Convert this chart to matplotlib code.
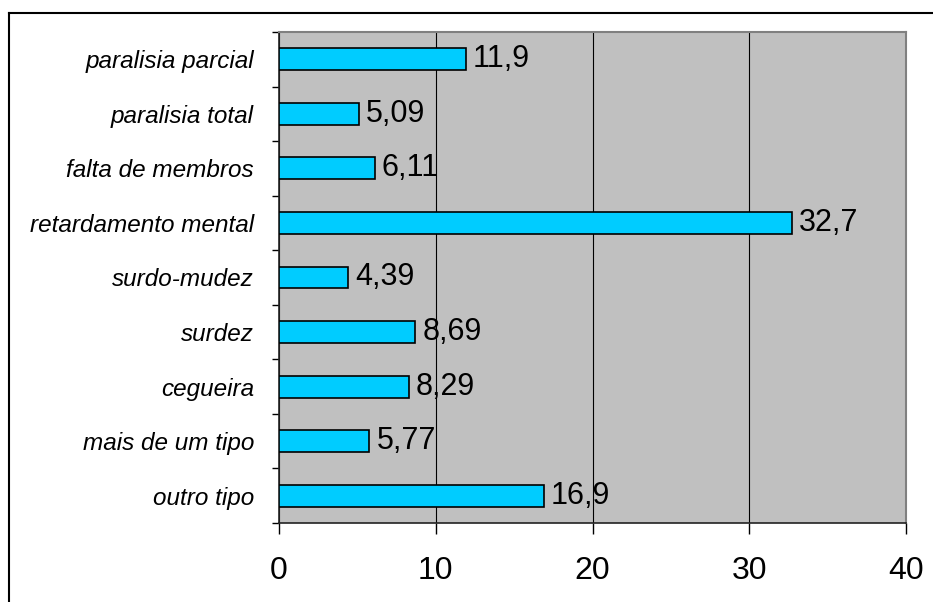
import matplotlib.pyplot as plt
from matplotlib.lines import Line2D
import numpy as np

categorias = ['paralisia parcial', 'paralisia total', 'falta de membros',
              'retardamento mental', 'surdo-mudez', 'surdez', 'cegueira',
              'mais de um tipo', 'outro tipo']
valores = [11.9, 5.09, 6.11, 32.7, 4.39, 8.69, 8.29, 5.77, 16.9]
xticks = [0, 10, 20, 30, 40]

plt.rcParams['font.family'] = ['Liberation Sans', 'DejaVu Sans']

fig = plt.figure(figsize=(9.33, 6.02), dpi=100)
ax = fig.add_axes([279/933, 1 - 523/602, (906-279)/933, (523-32)/602])
ax.set_facecolor('#C0C0C0')

y = np.arange(len(categorias))
ax.barh(y, valores, height=0.4, color='#00CCFF', edgecolor='black', linewidth=1.2, zorder=3)

for yi, v in zip(y, valores):
    ax.text(v + 0.45, yi, f"{v:g}".replace('.', ','), va='center', ha='left',
            fontsize=22, zorder=4)

ax.set_xlim(0, 40)
ax.set_ylim(len(categorias) - 0.5, -0.5)
ax.set_xticks(xticks)
ax.set_xticklabels([str(t) for t in xticks], fontsize=23)
ax.set_yticks(y)
ax.set_yticklabels(categorias, fontsize=17.5, style='italic')
ax.set_yticks(np.arange(len(categorias) + 1) - 0.5, minor=True)
ax.tick_params(axis='y', which='major', length=0, pad=18)
ax.tick_params(axis='y', which='minor', length=5, width=1)
ax.tick_params(axis='x', length=8, width=1, pad=16)

ax.xaxis.grid(True, color='black', linewidth=0.8, zorder=1)
ax.set_axisbelow(True)

for s in ['left', 'bottom']:
    ax.spines[s].set_color('#222222')
    ax.spines[s].set_linewidth(1.2)
for s in ['top', 'right']:
    ax.spines[s].set_color('#808080')
    ax.spines[s].set_linewidth(1.5)

# moldura externa
fig.add_artist(Line2D([9/933, 1], [1 - 13/602, 1 - 13/602], color='black', lw=1.5,
                      transform=fig.transFigure))
fig.add_artist(Line2D([9/933, 9/933], [0, 1 - 13/602], color='black', lw=1.5,
                      transform=fig.transFigure))

plt.savefig('out.png', dpi=100)
plt.close()
